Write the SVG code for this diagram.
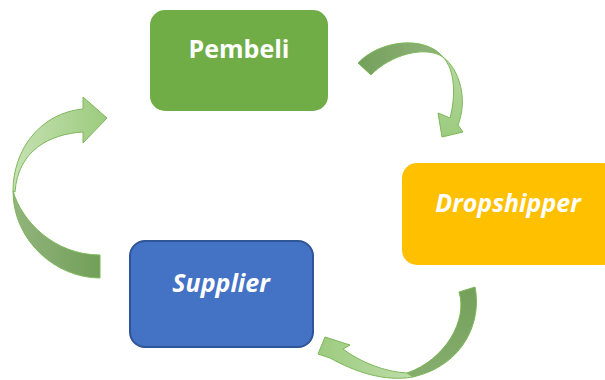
<svg xmlns="http://www.w3.org/2000/svg" width="605" height="380" viewBox="0 0 605 380">
<defs>
<linearGradient id="gLeftLight" x1="0" y1="0" x2="1" y2="0">
<stop offset="0" stop-color="#C6E1B3"/><stop offset="1" stop-color="#9CCB7E"/>
</linearGradient>
<linearGradient id="gLeftDark" x1="0" y1="0" x2="1" y2="0">
<stop offset="0" stop-color="#93B47E"/><stop offset="1" stop-color="#719F58"/>
</linearGradient>
<linearGradient id="gTopDark" x1="0" y1="0" x2="1" y2="0">
<stop offset="0" stop-color="#74A05A"/><stop offset="1" stop-color="#92B47C"/>
</linearGradient>
<linearGradient id="gTopLight" x1="0" y1="0" x2="0" y2="1">
<stop offset="0" stop-color="#B6D9A0"/><stop offset="1" stop-color="#9CCB7E"/>
</linearGradient>
<linearGradient id="gBotDark" x1="0" y1="0" x2="0" y2="1">
<stop offset="0" stop-color="#74A05A"/><stop offset="1" stop-color="#86AD6E"/>
</linearGradient>
<linearGradient id="gBotLight" x1="1" y1="0" x2="0" y2="0">
<stop offset="0" stop-color="#BEDDA9"/><stop offset="1" stop-color="#9CCB7E"/>
</linearGradient>
<style>
.arr{stroke:#7DB85A;stroke-width:1;stroke-linejoin:round}
.lbl{font-family:"Open Sans","Liberation Sans",sans-serif;font-weight:bold;font-size:25px;fill:#FFFFFF;text-anchor:middle}
.it{font-style:italic}
</style>
</defs>

<g id="connectors">
  <g id="arrow-supplier-pembeli">
    <path class="arr" fill="url(#gLeftDark)" d="M100,255 L100,278 C55,278 13,240 13,191 C22,222 55,255 100,255 Z"/>
    <path class="arr" fill="url(#gLeftLight)" d="M13,191 C13,150 40,113 83,109 L83,97 L107,118 L83,143 L83,132 C50,134 18,150 15,192 Z"/>
  </g>
  <g id="arrow-pembeli-dropshipper">
    <path class="arr" fill="url(#gTopDark)" d="M358,63 C380,40 425,35 443,57 C425,45 390,55 371,75 Z"/>
    <path class="arr" fill="url(#gTopLight)" d="M443,57 C460,70 468,100 458,125 L463,132 L442,137 L438,113 L450,118 C456,95 455,70 443,57 Z"/>
  </g>
  <g id="arrow-dropshipper-supplier">
    <path class="arr" fill="url(#gBotDark)" d="M459,292 L475,287 C482,320 465,365 413,377 L407,373 C445,360 468,320 459,292 Z"/>
    <path class="arr" fill="url(#gBotLight)" d="M413,377 C385,382 355,372 330,358 L318,354 L325,337 L350,345 L343,349 C360,362 385,372 407,373 Z"/>
  </g>
</g>

<g id="node-pembeli">
  <rect x="150" y="10" width="178" height="101" rx="15" fill="#70AD47"/>
  <text class="lbl" x="239" y="58">Pembeli</text>
</g>
<g id="node-dropshipper">
  <rect x="402" y="163" width="215" height="102" rx="15" fill="#FFC000"/>
  <text class="lbl it" x="508" y="212">Dropshipper</text>
</g>
<g id="node-supplier">
  <rect x="130" y="241" width="183" height="106" rx="15" fill="#4472C4" stroke="#2F5597" stroke-width="2"/>
  <text class="lbl it" x="221" y="292">Supplier</text>
</g>
</svg>
